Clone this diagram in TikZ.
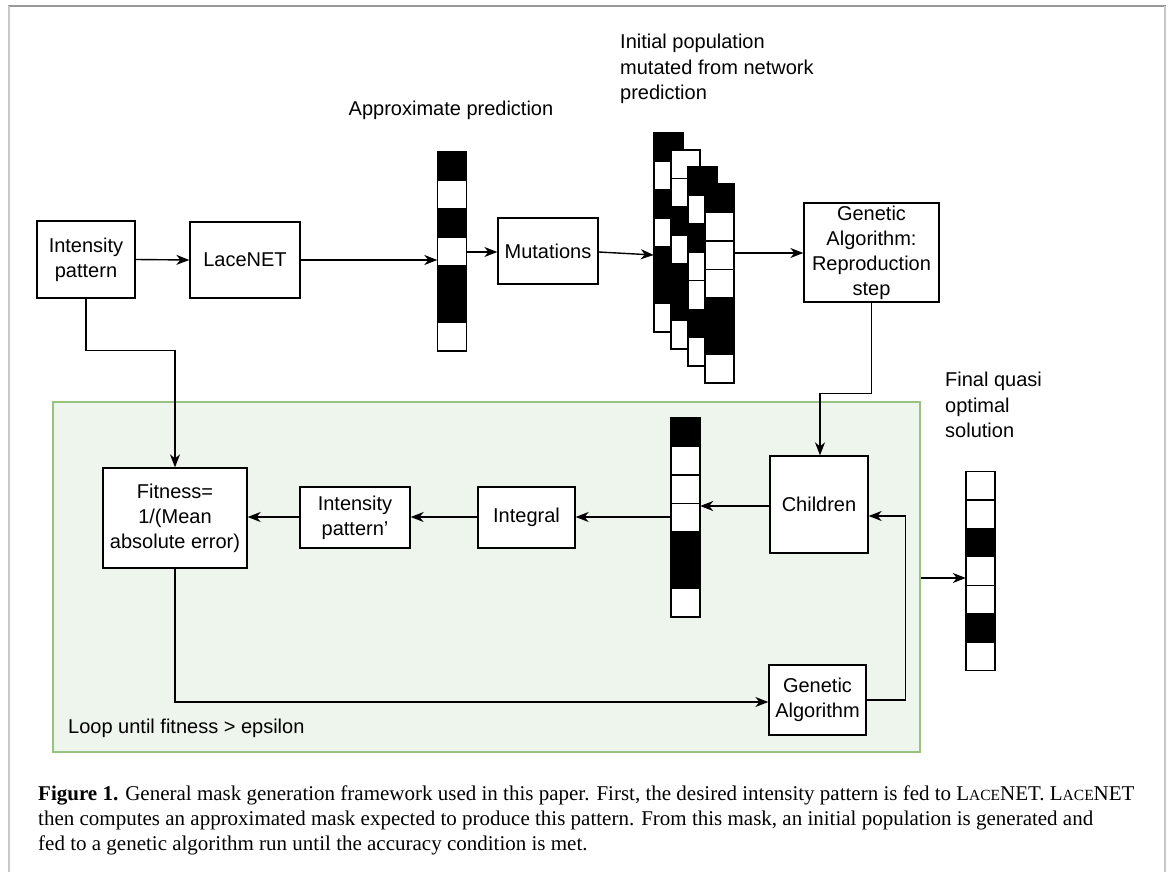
\documentclass[tikz,border=0pt]{standalone}
\usepackage{fontspec}
\setmainfont{Liberation Serif}
\setsansfont{Liberation Sans}
\usetikzlibrary{arrows.meta}
\definecolor{loopfill}{HTML}{EEF5EC}
\definecolor{loopdraw}{HTML}{97C27F}
\definecolor{framedark}{HTML}{999999}
\definecolor{framelight}{HTML}{C8C8C8}
\newcommand\lacenet{L{\fontsize{15.5}{15.5}\selectfont ACE}NET}
\begin{document}
\begin{tikzpicture}[x=1pt,y=-1pt,
  txt/.style={font=\fontsize{20}{25}\selectfont\sffamily, align=center, inner sep=0pt},
  lbl/.style={font=\fontsize{20}{25.5}\selectfont\sffamily, align=left, inner sep=0pt, anchor=north west},
  boxnode/.style={draw, line width=1.3pt, fill=white, txt},
  conn/.style={line width=1.4pt, -{Stealth[length=13pt,width=10pt,inset=4pt]}},
  cell/.style={draw, line width=1.3pt},
  captext/.style={font=\fontsize{21}{25}\selectfont, anchor=base west, inner sep=0pt}
]
\useasboundingbox (0,0) rectangle (1171,872);
% outer frame
\draw[framedark, line width=1.5pt] (8,6) -- (1166,6);
\draw[framelight, line width=2pt] (9,6) -- (9,872);
\draw[framelight, line width=2pt] (1165,6) -- (1165,872);

% loop container
\node[draw=loopdraw, fill=loopfill, line width=1.5pt, minimum width=867, minimum height=350, inner sep=0] (loop) at (486.5,577) {};
\node[lbl, anchor=west] (looplbl) at (68,728) {Loop until fitness > epsilon};

% boxes top row
\node[boxnode, minimum width=98, minimum height=77] (intens) at (86,259.5) {Intensity\\pattern};
\node[boxnode, minimum width=110, minimum height=76] (lace) at (245,260) {LaceNET};
\node[boxnode, minimum width=100, minimum height=66] (mut) at (548,251) {Mutations};
\node[boxnode, minimum width=135, minimum height=99] (ga1) at (871.5,252.5) {Genetic\\Algorithm:\\Reproduction\\step};

% boxes bottom row
\node[boxnode, minimum width=144, minimum height=100] (fit) at (175,518) {Fitness=\\1/(Mean\\absolute error)};
\node[boxnode, minimum width=110, minimum height=61] (ip2) at (355,517.5) {Intensity\\pattern'};
\node[boxnode, minimum width=97, minimum height=61] (integ) at (526.5,517.5) {Integral};
\node[boxnode, minimum width=98, minimum height=97] (child) at (819,504.5) {Children};
\node[boxnode, minimum width=97, minimum height=70] (ga2) at (817.5,700) {Genetic\\Algorithm};

% mask columns
\newcommand\maskcol[4]{% name, left, top, colours
  \node[inner sep=0, minimum width=29, minimum height=199] (#1) at (#2+14.5,#3+99.5) {};
  \foreach \c [count=\i from 0] in {#4} {
    \draw[cell, fill=\c] (#2,#3+\i*28.43) rectangle ++(29,28.43);
  }
}
\maskcol{bar1}{437.5}{152}{black,white,black,white,black,black,white}
\maskcol{popA}{654}{133}{black,white,black,white,black,black,white}
\maskcol{popB}{671}{150}{white,white,black,white,black,black,white}
\maskcol{popC}{688}{167}{black,white,black,white,white,black,white}
\maskcol{popD}{705}{184}{black,white,white,white,black,black,white}
\maskcol{bar2}{671}{418}{black,white,white,white,black,black,white}
\maskcol{bar3}{966}{471.5}{white,white,black,white,white,black,white}

% labels
\node[txt] (approxlbl) at (451,110) {Approximate prediction};
\node[lbl] (poplbl) at (620,34) {Initial population\\mutated from network\\prediction};
\node[lbl] (finallbl) at (945,372) {Final quasi\\optimal\\solution};

% connectors
\draw[conn] (intens.east) -- (lace.west);
\draw[conn] (lace.east) -- (lace.east -| bar1.west);
\draw[conn] (bar1.east |- 0,252) -- (mut.west |- 0,252);
\draw[conn] (mut.east |- 0,252) -- (popA.west |- 0,255);
\draw[conn] (popD.east |- 0,253) -- (ga1.west |- 0,253);
\draw[conn] (ga1.south) -- ++(0,91) -| (child.north -| 820,0);
\draw[conn] (intens.south) -- ++(0,52) -| (fit.north);
\draw[conn] (child.west |- 0,506) -- (bar2.east |- 0,506);
\draw[conn] (bar2.west |- 0,517) -- (integ.east |- 0,517);
\draw[conn] (integ.west |- 0,517) -- (ip2.east |- 0,517);
\draw[conn] (ip2.west |- 0,517) -- (fit.east |- 0,517);
\draw[conn] (fit.south) |- (ga2.west |- 0,702);
\draw[conn] (ga2.east) -- ++(39,0) |- (child.east |- 0,516);
\draw[conn] (loop.east |- 0,578) -- (bar3.west |- 0,578);

% caption
\node[captext] (cap1) at (38,800) {\textbf{Figure 1.} General mask generation framework used in this paper. First, the desired intensity pattern is fed to \lacenet. \lacenet};
\node[captext] (cap2) at (38,825) {then computes an approximated mask expected to produce this pattern. From this mask, an initial population is generated and};
\node[captext] (cap3) at (38,850) {fed to a genetic algorithm run until the accuracy condition is met.};
\end{tikzpicture}
\end{document}
